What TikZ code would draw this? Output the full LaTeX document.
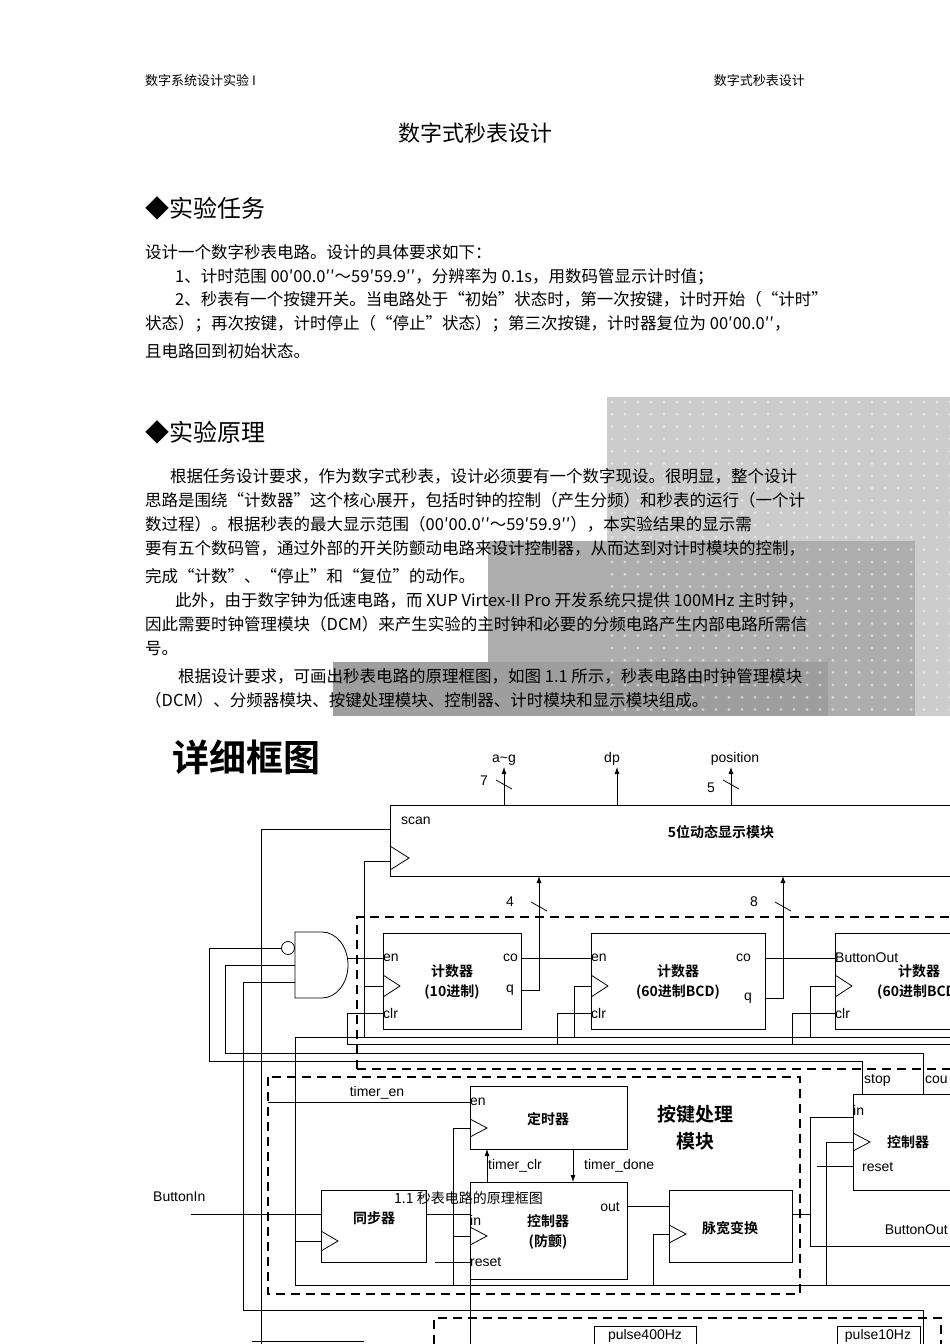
\documentclass[tikz,border=0pt]{standalone}
\usepackage{fontspec}
\setmainfont{Liberation Serif}
\newfontfamily\cjk{Noto Sans CJK SC}
\newfontfamily\cjkb{Noto Sans CJK SC Bold}
\newfontfamily\arial{Liberation Sans}
\usetikzlibrary{arrows.meta}
\begin{document}
\begin{tikzpicture}[x=1pt,y=-1pt,
  body/.style={anchor=base west,inner sep=0pt,font=\cjk\fontsize{16.5}{18}\selectfont},
  lbl/.style={inner sep=0pt,font=\arial\fontsize{14}{16}\selectfont},
  ttl/.style={inner sep=0pt,align=center,font=\cjkb\fontsize{14}{20}\selectfont},
  blk/.style={draw,line width=0.8pt},
  wire/.style={line width=0.8pt},
  dbox/.style={draw,line width=2.2pt,dash pattern=on 9pt off 6pt},
  dbox2/.style={draw,line width=1.4pt,dash pattern=on 9pt off 6pt},
  arr/.style={wire,-{Latex[length=7pt,width=5pt]}}]
\useasboundingbox (0,0) rectangle (950,1344);
\clip (0,0) rectangle (950,1344);
\fill[white] (0,0) rectangle (950,1344);
% overlays
\fill[black!20] (607,397) rectangle (950,716);
\fill[black!32] (488,541) rectangle (915,716);
\fill[black!38] (333,662) rectangle (828,716);
\foreach \i in {0,...,26}{\foreach \j in {0,...,25}{\fill[white,opacity=.5] (612+\i*13,402+\j*12.3) circle (1.6);}}
% header
\node[body,font=\cjk\fontsize{13}{14}\selectfont] (h1) at (145,85) {数字系统设计实验 I};
\node[anchor=base east,inner sep=0pt,font=\cjk\fontsize{13}{14}\selectfont] (h2) at (805,85) {数字式秒表设计};
\node[anchor=base,inner sep=0pt,font=\cjk\fontsize{22}{24}\selectfont] (t) at (475,141) {数字式秒表设计};
\node[body,font=\cjk\fontsize{24}{26}\selectfont] (s1) at (145,217) {◆实验任务};
\node[body] (p1) at (145,258) {设计一个数字秒表电路。设计的具体要求如下：};
\node[body] (p2) at (175,282) {1、计时范围 00′00.0′′～59′59.9′′，分辨率为 0.1s，用数码管显示计时值；};
\node[body] (p3) at (175,305) {2、秒表有一个按键开关。当电路处于“初始”状态时，第一次按键，计时开始（“计时”};
\node[body] (p4) at (145,329) {状态）；再次按键，计时停止（“停止”状态）；第三次按键，计时器复位为 00′00.0′′，};
\node[body] (p5) at (145,357) {且电路回到初始状态。};
\node[body,font=\cjk\fontsize{24}{26}\selectfont] (s2) at (145,441) {◆实验原理};
\node[body] (q1) at (170,482) {根据任务设计要求，作为数字式秒表，设计必须要有一个数字现设。很明显，整个设计};
\node[body] (q2) at (145,506) {思路是围绕“计数器”这个核心展开，包括时钟的控制（产生分频）和秒表的运行（一个计};
\node[body] (q3) at (145,530) {数过程）。根据秒表的最大显示范围（00′00.0′′～59′59.9′′），本实验结果的显示需};
\node[body] (q4) at (145,554) {要有五个数码管，通过外部的开关防颤动电路来设计控制器，从而达到对计时模块的控制，};
\node[body] (q5) at (145,582) {完成“计数”、“停止”和“复位”的动作。};
\node[body] (q6) at (175,606) {此外，由于数字钟为低速电路，而 XUP Virtex-II Pro 开发系统只提供 100MHz 主时钟，};
\node[body] (q7) at (145,630) {因此需要时钟管理模块（DCM）来产生实验的主时钟和必要的分频电路产生内部电路所需信};
\node[body] (q8) at (145,654) {号。};
\node[body] (q9) at (178,682) {根据设计要求，可画出秒表电路的原理框图，如图 1.1 所示，秒表电路由时钟管理模块};
\node[body] (q10) at (145,706) {（DCM）、分频器模块、按键处理模块、控制器、计时模块和显示模块组成。};
% diagram title
\node[anchor=west,inner sep=0pt,font=\cjkb\fontsize{37}{40}\selectfont] (dt) at (172,757) {详细框图};
% display module
\draw[blk] (390,805) rectangle (960,876);
\node[lbl,anchor=west] (scan) at (401,821) {scan};
\node[ttl] (disp) at (721,832) {5位动态显示模块};
\draw[wire] (390,846) -- (409,858) -- (390,870);
\coordinate (ag) at (504,767); \coordinate (dp) at (617,767); \coordinate (pos) at (731,767);
\draw[arr] (504,805) -- (ag); \draw[arr] (617,805) -- (dp); \draw[arr] (731,805) -- (pos);
\node[lbl,anchor=south] at (504,766) {a\textasciitilde g};
\node[lbl,anchor=south] at (612,766) {dp};
\node[lbl,anchor=south] at (735,766) {position};
\draw[wire] (496,780) -- (512,789); \node[lbl] at (484,781) {7};
\draw[wire] (723,780) -- (739,789); \node[lbl] at (711,788) {5};
% counters dashed
\draw[dbox2] (357,1069) -- (357,917) -- (960,917);
\draw[dbox2] (357,1069) -- (960,1069);
\draw[blk] (383,933) rectangle (521,1029);
\draw[blk] (591,933) rectangle (765,1029);
\draw[blk] (835,933) rectangle (990,1029);
\foreach \x in {383,591,835}{\draw[wire] (\x,975) -- (\x+17,986) -- (\x,997);}
\node[lbl,anchor=west] at (383,958) {en}; \node[lbl,anchor=west] at (383,1013) {clr};
\node[lbl,anchor=east] at (518,958) {co}; \node[lbl,anchor=east] at (514,990) {q};
\node[ttl] at (452,982) {计数器\\(10进制)};
\node[lbl,anchor=west] at (591,958) {en}; \node[lbl,anchor=west] at (591,1013) {clr};
\node[lbl,anchor=east] at (751,958) {co}; \node[lbl,anchor=east] at (752,998) {q};
\node[ttl] at (678,982) {计数器\\(60进制BCD)};
\node[lbl,anchor=west] at (835,958) {ButtonOut}; \node[lbl,anchor=west] at (835,1013) {clr};
\node[ttl,anchor=west] at (877,982) {计数器\\(60进制BCD)};
% counter connections
\draw[wire] (521,958) -- (591,958); \draw[wire] (765,958) -- (835,958);
\draw[arr] (521,990) -- (539,990) -- (539,876);
\draw[arr] (765,998) -- (783,998) -- (783,876);
\draw[wire] (531,902) -- (547,911); \node[lbl] at (510,902) {4};
\draw[wire] (775,902) -- (791,911); \node[lbl] at (754,902) {8};
% AND gate
\draw[blk] (295,932) -- (322,932) arc (-90:90:26 and 33) -- (295,998) -- cycle;
\draw[blk] (288,948) circle (6.5);
\draw[wire] (348,958) -- (383,958);
\draw[wire] (281,948) -- (209,948) -- (209,1061) -- (862,1061) -- (862,1094);
\draw[wire] (295,965) -- (225,965) -- (225,1053) -- (923,1053) -- (923,1094);
\draw[wire] (295,982) -- (243,982) -- (243,1310) -- (923,1310) -- (923,1344);
% scan, clocks
\draw[wire] (390,829) -- (261,829) -- (261,1344);
\draw[wire] (390,861) -- (364,861) -- (364,1037);
\draw[wire] (364,986) -- (383,986);
\draw[wire] (295,1285) -- (295,1037) -- (960,1037);
\draw[wire] (574,1037) -- (574,986) -- (591,986);
\draw[wire] (810,1037) -- (810,986) -- (835,986);
\draw[wire] (347,1044) -- (960,1044);
\draw[wire] (347,1044) -- (347,1013) -- (383,1013);
\draw[wire] (557,1044) -- (557,1013) -- (591,1013);
\draw[wire] (792,1044) -- (792,1013) -- (835,1013);
% key module
\draw[dbox] (268,1077) rectangle (800,1294);
\draw[blk] (470,1086) rectangle (627,1149);
\node[lbl,anchor=west] at (470,1102) {en};
\draw[wire] (470,1119) -- (487,1128) -- (470,1137);
\node[ttl] at (548,1119) {定时器};
\node[ttl,font=\cjkb\fontsize{19}{27}\selectfont] at (695,1128) {按键处理\\模块};
\draw[wire] (268,1102) -- (470,1102);
\node[lbl] at (377,1093) {timer\_en};
\draw[blk] (470,1182) rectangle (627,1279);
\node[lbl,anchor=west] at (470,1220) {in};
\node[lbl,anchor=east] at (620,1207) {out};
\node[lbl,anchor=west] at (470,1262) {reset};
\draw[wire] (470,1227) -- (487,1236) -- (470,1245);
\node[ttl] at (548,1232) {控制器\\(防颤)};
\draw[arr] (487,1182) -- (487,1149);
\draw[arr] (573,1149) -- (573,1182);
\node[lbl,anchor=west] at (488,1166) {timer\_clr};
\node[lbl,anchor=west] at (584,1166) {timer\_done};
\draw[blk] (321,1190) rectangle (426,1262);
\node[ttl] at (374,1218) {同步器};
\draw[wire] (321,1231) -- (338,1241) -- (321,1251);
\node[lbl,anchor=west] at (153,1197) {ButtonIn};
\draw[wire] (191,1214) -- (321,1214);
\draw[wire] (426,1214) -- (470,1214);
\draw[wire] (295,1241) -- (321,1241);
\draw[blk] (669,1190) rectangle (792,1262);
\node[ttl] at (730,1228) {脉宽变换};
\draw[wire] (669,1225) -- (686,1234) -- (669,1243);
\draw[wire] (627,1206) -- (669,1206);
\draw[wire] (453,1285) -- (453,1128) -- (470,1128);
\draw[wire] (453,1236) -- (470,1236);
\draw[wire] (653,1285) -- (653,1234) -- (669,1234);
\draw[wire] (435,1262) -- (470,1262);
\draw[wire] (295,1285) -- (960,1285);
\draw[wire] (470,1279) -- (470,1344);
% right controller
\draw[blk] (853,1094) rectangle (990,1190);
\node[lbl,anchor=west] at (853,1110) {in};
\node[lbl,anchor=west] at (862,1167) {reset};
\draw[wire] (853,1133) -- (870,1142) -- (853,1151);
\node[ttl,anchor=west] at (887,1142) {控制器};
\draw[wire] (792,1214) -- (810,1214);
\draw[wire] (853,1117) -- (810,1117) -- (810,1246) -- (960,1246);
\node[lbl,anchor=east] at (948,1230) {ButtonOut};
\draw[wire] (826,1285) -- (826,1142) -- (853,1142);
\draw[wire] (817,1166) -- (853,1166);
\node[lbl,anchor=west] at (864,1080) {stop};
\node[lbl,anchor=west] at (925,1080) {cou};
% bottom dashed
\draw[dbox2] (434,1344) -- (434,1318) -- (941,1318) -- (941,1344);
\draw[blk] (594,1326) rectangle (696,1350);
\node[lbl] at (645,1336) {pulse400Hz};
\draw[blk] (837,1326) rectangle (920,1350);
\node[lbl] at (878,1336) {pulse10Hz};
\draw[wire] (252,1341) -- (364,1341);
% caption
\node[anchor=base west,inner sep=0pt,font=\cjk\fontsize{14}{16}\selectfont] (cap) at (394,1203) {1.1 秒表电路的原理框图};
\end{tikzpicture}
\end{document}
